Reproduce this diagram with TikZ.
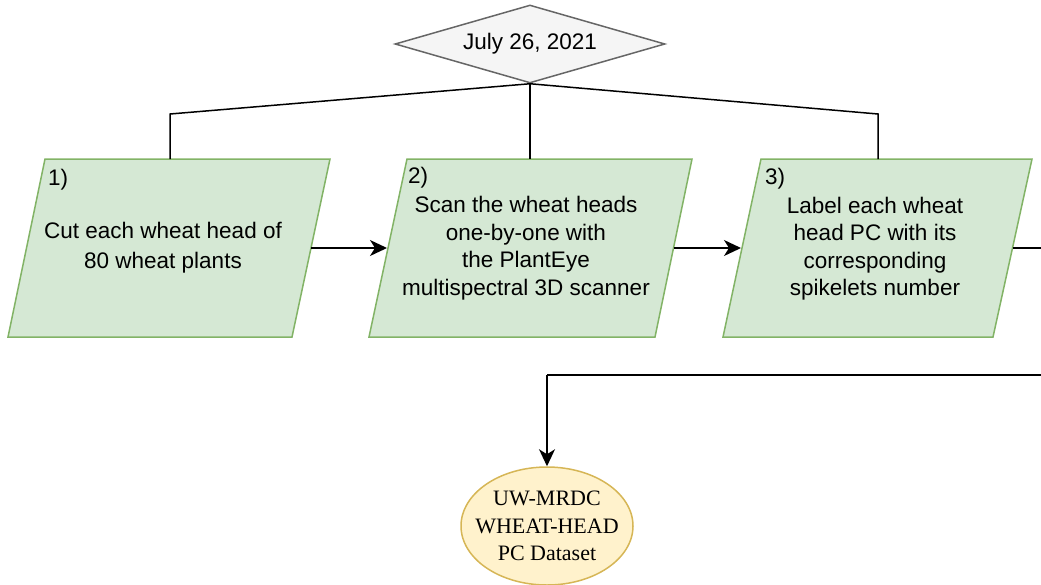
\documentclass[tikz,border=0pt]{standalone}
\usepackage{fontspec}
\setmainfont{Liberation Sans}
\newfontfamily\serifdata{Liberation Serif}
\usetikzlibrary{shapes.geometric,arrows.meta}
\definecolor{grfill}{HTML}{D5E8D4}
\definecolor{grline}{HTML}{82B366}
\definecolor{ylfill}{HTML}{FFF2CC}
\definecolor{ylline}{HTML}{D6B656}
\definecolor{dmfill}{HTML}{F5F5F5}
\definecolor{dmline}{HTML}{666666}
\tikzset{
  parabox/.style={draw=grline,fill=grfill,line width=1.5pt,line join=miter},
  txt/.style={align=center,inner sep=0pt,font=\fontsize{22.5}{27.5}\selectfont},
  numlbl/.style={anchor=west,inner sep=0pt,font=\fontsize{22.5}{27.5}\selectfont},
  conn/.style={draw=black,line width=1.5pt},
  arr/.style={conn,-{Stealth[length=17pt,width=16pt,inset=5pt]}},
}
\begin{document}
\begin{tikzpicture}[x=1pt,y=-1pt]
\useasboundingbox (0,0) rectangle (1041,584);
\clip (0,0) rectangle (1041,584);
% parallelograms
\draw[parabox] (45,159) -- (330,159) -- (292,337) -- (8,337) -- cycle;
\draw[parabox] (407,159) -- (692,159) -- (655,337) -- (369,337) -- cycle;
\draw[parabox] (761,159) -- (1032,159) -- (993,337) -- (723,337) -- cycle;
% anchors on shapes
\coordinate (p1n) at (170,159);
\coordinate (p2n) at (530,159);
\coordinate (p3n) at (878,159);
\coordinate (p1e) at (311,248);
\coordinate (p2w) at (387,248);
\coordinate (p2e) at (673.5,248);
\coordinate (p3w) at (741,248);
\coordinate (p3e) at (1012.5,248);
% texts
\node[numlbl] (n1) at (48,180) {1)};
\node[numlbl] (n2) at (408,178) {2)};
\node[numlbl] (n3) at (765,179) {3)};
\node[txt,font=\fontsize{22.5}{30}\selectfont] (t1) at (163,248) {Cut each wheat head of\\80 wheat plants};
\node[txt] (t2) at (526,248) {Scan the wheat heads\\one-by-one with\\the PlantEye\\multispectral 3D scanner};
\node[txt] (t3) at (875,248.5) {Label each wheat\\head PC with its\\corresponding\\spikelets number};
% diamond
\node[diamond,aspect=3.46,draw=dmline,fill=dmfill,line width=1.5pt,inner sep=1pt,
      minimum width=270pt,minimum height=78pt,font=\fontsize{22.5}{27.5}\selectfont] (dia) at (530,44) {July 26, 2021};
% ellipse
\node[ellipse,draw=ylline,fill=ylfill,line width=1.5pt,minimum width=172pt,minimum height=118pt,
      inner sep=0pt] (ds) at (547,526) {};
\node[align=center,inner sep=0pt,font=\serifdata\fontsize{22}{27.5}\selectfont] (dst) at (547,526) {UW-MRDC\\WHEAT-HEAD\\PC Dataset};
% connectors from diamond
\coordinate (b1) at (170,114);
\coordinate (b3) at (878,114);
\draw[conn] (dia.south) -- (b1) -- (p1n);
\draw[conn] (dia.south) -- (p2n);
\draw[conn] (dia.south) -- (b3) -- (p3n);
% arrows between steps
\draw[arr] (p1e) -- (p2w);
\draw[arr] (p2e) -- (p3w);
\coordinate (r1) at (1070,248);
\coordinate (r2) at (1070,375);
\coordinate (r3) at (547,375);
\draw[conn] (p3e) -- (r1) -- (r2) -- (r3);
\draw[arr] (r3) -- (ds.north);
\end{tikzpicture}
\end{document}
